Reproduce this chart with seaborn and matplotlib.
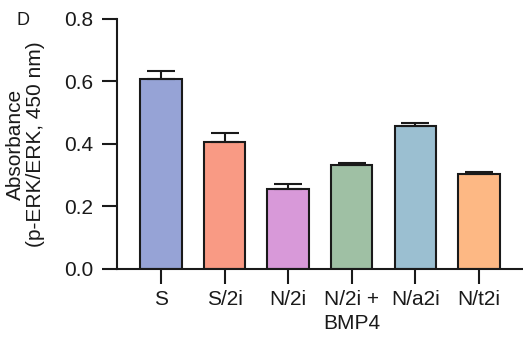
import matplotlib
matplotlib.use("Agg")
import matplotlib.pyplot as plt
import seaborn as sns
import pandas as pd
import numpy as np

categories = ["S", "S/2i", "N/2i", "N/2i +\nBMP4", "N/a2i", "N/t2i"]
values = [0.608, 0.406, 0.256, 0.333, 0.458, 0.304]
errors = [0.026, 0.028, 0.015, 0.006, 0.009, 0.006]
colors = ["#96a3d6", "#f99a84", "#d899d9", "#9fc0a4", "#9bbfd1", "#fdb884"]
yticks = [0.0, 0.2, 0.4, 0.6, 0.8]

sns.set_style("ticks")
plt.rcParams["font.family"] = ["Liberation Sans", "DejaVu Sans"]

df = pd.DataFrame({"cond": categories, "val": values})
fig = plt.figure(figsize=(5.23, 3.39), dpi=100)
ax = fig.add_axes([0.2237, 0.2065, 0.7763, 0.7375])
sns.barplot(data=df, x="cond", y="val", hue="cond", palette=colors, legend=False,
            width=0.65, edgecolor="#1a1a1a", linewidth=1.5, saturation=1, ax=ax)
x = np.arange(len(categories))
ax.errorbar(x, values, yerr=[np.zeros(len(values)), errors], fmt="none",
            ecolor="#1a1a1a", elinewidth=1.5, capsize=10, capthick=1.5, zorder=1)
ax.set_xlim(-0.69, 5.69)
ax.set_ylim(0, 0.8)
ax.set_yticks(yticks)
ax.set_yticklabels([f"{t:.1f}" for t in yticks])
ax.set_xlabel("")
ax.set_ylabel("Absorbance\n(p-ERK/ERK, 450 nm)", fontsize=15, labelpad=14,
              linespacing=1.05, color="#1a1a1a")
sns.despine(ax=ax)
for s in ["left", "bottom"]:
    ax.spines[s].set_linewidth(1.5)
    ax.spines[s].set_color("#1a1a1a")
ax.tick_params(axis="both", length=11, width=1.5, labelsize=15, color="#1a1a1a",
               labelcolor="#1a1a1a", pad=6)
ax.tick_params(axis="x", pad=4)
for lbl in ax.get_xticklabels():
    lbl.set_linespacing(1.35)
fig.text(17 / 523, 1 - 25 / 339, "D", fontsize=13, va="baseline", color="#1a1a1a")
fig.savefig("out.png", dpi=100)
